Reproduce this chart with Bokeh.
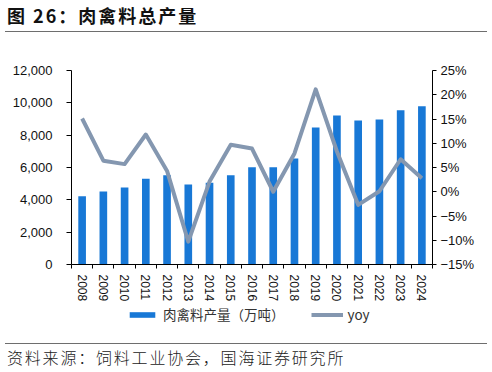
from bokeh.plotting import figure
from bokeh.models import (Range1d, LinearAxis, FixedTicker, NumeralTickFormatter,
                          CustomJSTickFormatter, Legend, LegendItem, ColumnDataSource, Div)
from bokeh.layouts import column
from bokeh.embed import file_html
from bokeh.resources import INLINE

# ---- data ----
years = ["2008", "2009", "2010", "2011", "2012", "2013", "2014", "2015", "2016",
         "2017", "2018", "2019", "2020", "2021", "2022", "2023", "2024"]
production = [4225, 4515, 4765, 5300, 5525, 4950, 5050, 5525, 6020,
              6020, 6560, 8470, 9215, 8905, 8970, 9545, 9790]
yoy = [15.1, 6.4, 5.7, 11.8, 4.3, -10.3, 2.1, 9.7, 8.9,
       0.0, 7.9, 21.1, 8.3, -2.7, 0.1, 6.7, 2.8]
left_ticks = [0, 2000, 4000, 6000, 8000, 10000, 12000]
right_ticks = [-15, -10, -5, 0, 5, 10, 15, 20, 25]
title_text = "图 26：肉禽料总产量"
source_text = "资料来源：饲料工业协会，国海证券研究所"
bar_label = "肉禽料产量（万吨）"
line_label = "yoy"

BAR_COLOR = "#1878d6"
LINE_COLOR = "#8497b0"
TICK_FONT = "Liberation Sans"
CJK_FONT = "Noto Sans CJK SC"

xs = list(range(len(years)))
src = ColumnDataSource(dict(x=xs, prod=production, yoy=yoy))

W = 492
TITLE_H = 32
SRC_H = 29
FIG_H = 272
LEG_H = 372 - TITLE_H - SRC_H - FIG_H  # 39

p = figure(width=W, height=FIG_H, output_backend="svg", toolbar_location=None,
           x_range=Range1d(-0.5, len(years) - 0.5), y_range=Range1d(0, 12000),
           min_border_left=71, min_border_right=60, min_border_top=38, min_border_bottom=40,
           x_axis_location=None, y_axis_location=None)
p.extra_y_ranges = {"yoy": Range1d(-15, 25)}
p.xgrid.visible = False
p.ygrid.visible = False
p.outline_line_color = None

# axes
xaxis = LinearAxis(ticker=FixedTicker(ticks=xs, minor_ticks=[i - 0.5 for i in range(len(years) + 1)]),
                   major_label_overrides={i: y for i, y in enumerate(years)})
xaxis.major_label_orientation = "vertical"
xaxis.major_tick_out = 0
xaxis.major_tick_in = 0
xaxis.minor_tick_out = 4
xaxis.minor_tick_in = 0
xaxis.major_label_standoff = 6
p.add_layout(xaxis, "below")

yl = LinearAxis(ticker=FixedTicker(ticks=left_ticks), formatter=NumeralTickFormatter(format="0,0"))
yl.major_tick_out = 5
yl.major_tick_in = 0
yl.minor_tick_line_color = None
yl.major_label_standoff = 14
p.add_layout(yl, "left")

yr = LinearAxis(y_range_name="yoy", ticker=FixedTicker(ticks=right_ticks),
                formatter=CustomJSTickFormatter(code="return (tick < 0 ? '\u2212' + Math.abs(tick) : String(tick)) + '%';"))
yr.major_tick_out = 4
yr.major_tick_in = 0
yr.minor_tick_line_color = None
yr.major_label_standoff = 4
p.add_layout(yr, "right")

for ax in (xaxis, yl, yr):
    ax.axis_line_color = "black"
    ax.axis_line_width = 1
    ax.major_tick_line_color = "black"
    ax.major_label_text_font = TICK_FONT
    ax.major_label_text_font_size = "13px"
    ax.major_label_text_color = "#111111"
xaxis.minor_tick_line_color = "black"
xaxis.major_label_text_font_size = "12px"

# glyphs
p.vbar(x="x", top="prod", width=0.36, bottom=0, source=src,
       fill_color=BAR_COLOR, line_color=None)
p.line(x="x", y="yoy", source=src, y_range_name="yoy",
       line_color=LINE_COLOR, line_width=4, line_join="round")

# legend strip (separate small figure so the legend is not clipped)
lf = figure(width=W, height=LEG_H, output_backend="svg", toolbar_location=None,
            x_range=Range1d(0, 1), y_range=Range1d(0, 1),
            min_border_left=0, min_border_right=0, min_border_top=0, min_border_bottom=0,
            x_axis_location=None, y_axis_location=None)
lf.xgrid.visible = False
lf.ygrid.visible = False
lf.outline_line_color = None
lf.border_fill_color = "white"
# legend-only renderers, placed entirely below the visible range
lsrc = ColumnDataSource(dict(x=[0.4, 0.6], y=[-6, -6], t=[-5, -5]))
lbar = lf.vbar(x="x", top="t", bottom="y", width=0.05, source=lsrc,
               fill_color=BAR_COLOR, line_color=None)
lline = lf.line(x="x", y="y", source=lsrc, line_color=LINE_COLOR, line_width=4)
legend = Legend(items=[LegendItem(label=bar_label, renderers=[lbar]),
                       LegendItem(label=line_label, renderers=[lline])],
                orientation="horizontal", location=(55, 19),
                glyph_width=32, glyph_height=7, label_height=14, label_standoff=5,
                spacing=26, padding=0, margin=0, border_line_color=None,
                background_fill_alpha=0, label_text_font=CJK_FONT,
                label_text_font_size="13.5px", label_text_color="#333333")
lf.add_layout(legend, "center")

title_div = Div(text=title_text, width=482, height=TITLE_H, margin=(0, 0, 0, 5),
                styles={"font-family": CJK_FONT, "font-weight": "bold", "font-size": "18px",
                        "letter-spacing": "2px",
                        "color": "#111111", "border-bottom": "1px solid #6e6e6e",
                        "box-sizing": "border-box", "padding-left": "2px",
                        "padding-top": "0px", "line-height": "30px", "white-space": "nowrap"})
source_div = Div(text=source_text, width=482, height=SRC_H, margin=(0, 0, 0, 5),
                 styles={"font-family": CJK_FONT, "font-size": "16px", "font-weight": "300",
                         "letter-spacing": "1.8px",
                         "color": "#222222", "border-top": "1px solid #6e6e6e",
                         "box-sizing": "border-box", "padding-left": "2px",
                         "line-height": "26px", "white-space": "nowrap"})

layout = column(title_div, p, lf, source_div, spacing=0)
open("out.html", "w").write(file_html(layout, INLINE))
